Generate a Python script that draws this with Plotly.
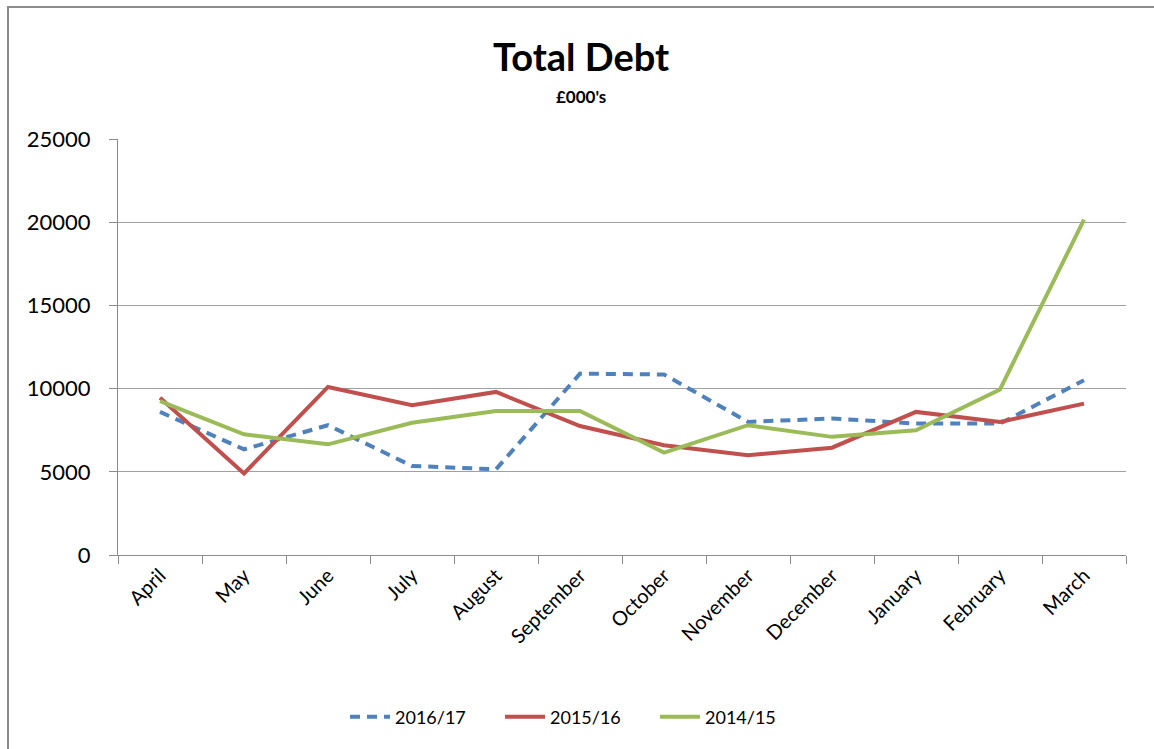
import plotly.graph_objects as go

months = ["April", "May", "June", "July", "August", "September", "October",
          "November", "December", "January", "February", "March"]
y2016_17 = [8600, 6350, 7800, 5350, 5150, 10900, 10850, 8000, 8200, 7900, 7900, 10500]
y2015_16 = [9450, 4900, 10100, 9000, 9800, 7750, 6600, 6000, 6450, 8600, 8000, 9100]
y2014_15 = [9250, 7250, 6650, 7950, 8650, 8650, 6150, 7800, 7100, 7500, 9950, 20150]

FONT = "Lato"
fig = go.Figure()
fig.add_trace(go.Scatter(x=months, y=y2016_17, name="2016/17", mode="lines",
                         line=dict(color="#4F81BD", width=4, dash="10px,7px")))
fig.add_trace(go.Scatter(x=months, y=y2015_16, name="2015/16", mode="lines",
                         line=dict(color="#C0504D", width=4)))
fig.add_trace(go.Scatter(x=months, y=y2014_15, name="2014/15", mode="lines",
                         line=dict(color="#9BBB59", width=4)))

L, R, T, B = 118, 28, 139, 194
W, H = 1154, 749
pw, ph = W - L - R, H - T - B

def px(x):
    return (x - L) / pw

def py(y):
    return (H - B - y) / ph

fig.update_layout(
    width=W, height=H,
    margin=dict(l=L, r=R, t=T, b=B),
    paper_bgcolor="white", plot_bgcolor="white",
    font=dict(family=FONT, color="#000000", size=19),
    showlegend=True,
    legend=dict(orientation="h", x=px(345), xanchor="left", y=py(717), yanchor="middle",
                font=dict(size=18, family=FONT), traceorder="normal", itemwidth=40,
                entrywidth=100),
    xaxis=dict(type="category", range=[-0.5, 11.5], showgrid=False,
               showline=True, linecolor="#8c8c8c", linewidth=1,
               ticks="outside", tickson="boundaries", ticklen=8, tickcolor="#8c8c8c",
               tickangle=-45, tickfont=dict(size=20, family=FONT)),
    yaxis=dict(range=[0, 25000], dtick=5000, showgrid=True, gridcolor="#a0a0a0",
               gridwidth=1, zeroline=False, tickformat="d",
               showline=True, linecolor="#8c8c8c", linewidth=1,
               ticks="outside", ticklen=8, tickcolor="#8c8c8c",
               tickfont=dict(size=22, family=FONT), ticklabelstandoff=14),
    annotations=[
        dict(text="<b>Total Debt</b>", x=px(581), y=py(56), xref="paper", yref="paper",
             showarrow=False, font=dict(size=38, family=FONT), xanchor="center", yanchor="middle"),
        dict(text="<b>£000's</b>", x=px(581), y=py(97), xref="paper", yref="paper",
             showarrow=False, font=dict(size=17, family=FONT), xanchor="center", yanchor="middle"),
    ],
    shapes=[
        dict(type="line", xref="paper", yref="paper", x0=px(8), x1=px(8), y0=py(6), y1=py(760),
             line=dict(color="#8c8c8c", width=2)),
        dict(type="line", xref="paper", yref="paper", x0=px(7), x1=px(1160), y0=py(7), y1=py(7),
             line=dict(color="#8c8c8c", width=2)),
    ],
)

fig.write_html("out.html")
